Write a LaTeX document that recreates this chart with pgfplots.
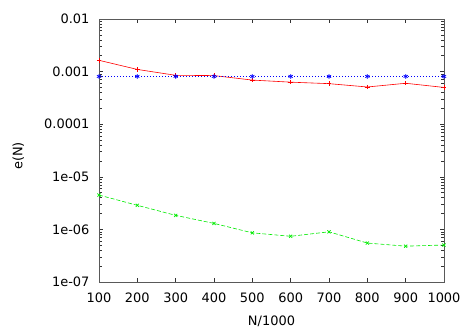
\documentclass[border=0pt]{standalone}
\usepackage{pgfplots}
\pgfplotsset{compat=1.18}
\usepackage{fontspec}
\setmainfont{DejaVu Sans}
\definecolor{gred}{RGB}{255,0,0}
\definecolor{ggreen}{RGB}{0,235,0}
\definecolor{gblue}{RGB}{0,0,255}
\begin{document}
\begin{tikzpicture}
\useasboundingbox (0,0) rectangle (471bp,330bp);
\begin{axis}[
  at={(99bp,48bp)}, anchor=south west,
  scale only axis, width=345bp, height=263bp,
  xmin=100, xmax=1000, ymin=1e-7, ymax=0.01, ymode=log,
  xtick={100,200,...,1000},
  xticklabels={100,200,300,400,500,600,700,800,900,1000},
  ytick={1e-7,1e-6,1e-5,1e-4,1e-3,1e-2},
  yticklabels={1e-07,1e-06,1e-05,0.0001,0.001,0.01},
  tick label style={font=\fontsize{13}{15}\selectfont},
  label style={font=\fontsize{13}{15}\selectfont},
  xlabel={N/1000}, ylabel={e(N)},
  xlabel style={at={(axis description cs:0.5,-0.151)},anchor=center},
  ylabel style={at={(axis description cs:-0.234,0.479)},anchor=center},
  axis line style={draw=black!65, line width=0.9bp},
  tick style={draw=black!80, line width=0.6bp},
  major tick length=4bp, minor tick length=2.5bp,
  tick align=inside,
  xtick pos=both, ytick pos=both,
  xticklabel style={yshift=-7.5bp},
  yticklabel style={xshift=-6bp},
  clip=false,
]
\addplot[draw=gred, line width=0.6bp, mark=+, mark size=2.2bp, mark options={solid, draw=gred, line width=0.7bp}] coordinates {
(100,0.00164) (200,0.00110) (300,0.00085) (400,0.00084) (500,0.00069)
(600,0.00063) (700,0.00059) (800,0.00051) (900,0.00060) (1000,0.00050)};
\addplot[draw=ggreen, line width=0.6bp, dash pattern=on 4bp off 2bp, mark=x, mark size=2.2bp, mark options={solid, draw=ggreen, line width=0.7bp}] coordinates {
(100,4.5e-6) (200,2.87e-6) (300,1.85e-6) (400,1.30e-6) (500,8.6e-7)
(600,7.4e-7) (700,9.0e-7) (800,5.5e-7) (900,4.8e-7) (1000,5.05e-7)};
\addplot[draw=gblue, line width=0.6bp, dash pattern=on 1.2bp off 1.8bp, mark=asterisk, mark size=2.4bp, mark options={solid, draw=gblue, line width=0.7bp}] coordinates {
(100,0.00081) (200,0.00081) (300,0.00081) (400,0.00081) (500,0.00081)
(600,0.00081) (700,0.00081) (800,0.00081) (900,0.00081) (1000,0.00081)};
\end{axis}
\end{tikzpicture}
\end{document}
